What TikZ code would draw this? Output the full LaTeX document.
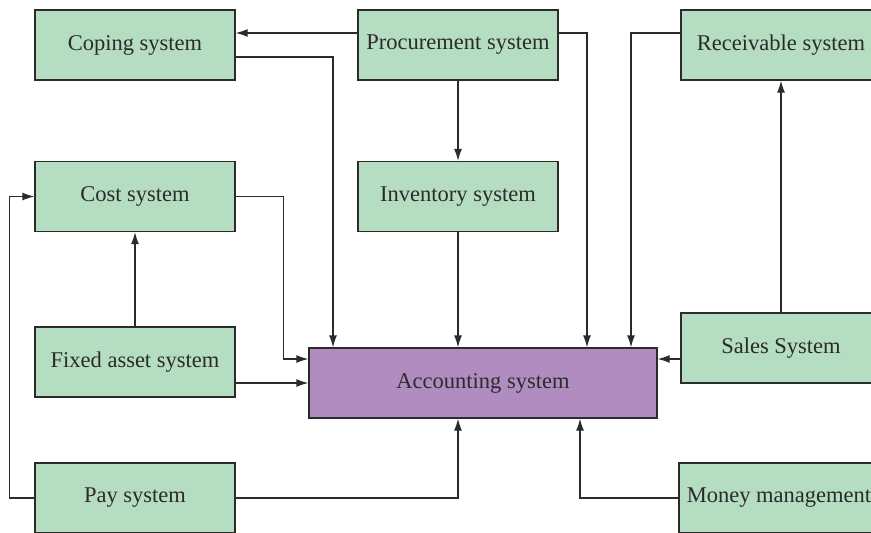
\documentclass[tikz,border=0pt]{standalone}
\usepackage{fontspec}
\setmainfont{Liberation Serif}
\usetikzlibrary{arrows.meta}
\definecolor{boxgreen}{HTML}{B5DDC1}
\definecolor{boxpurple}{HTML}{B08CC0}
\definecolor{ink}{HTML}{2B2B2B}
\begin{document}
\begin{tikzpicture}[x=1pt,y=-1pt,
  sysbox/.style={draw=ink, line width=1.3pt, fill=boxgreen, text=ink,
    minimum width=200pt, minimum height=70pt, inner sep=0pt,
    font=\fontsize{22.5}{27}\selectfont},
  mainbox/.style={sysbox, fill=boxpurple, minimum width=348pt},
  flow/.style={draw=ink, line width=1.3pt, -{Latex[length=12pt,width=8pt]}}]
\useasboundingbox (0,0) rectangle (871,533);
\clip (0,0) rectangle (871,533);

% subsystems
\node[sysbox] (cop)   at (135,45)    {Coping system};
\node[sysbox] (proc)  at (458,45)    {Procurement system};
\node[sysbox] (rec)   at (781,45)    {Receivable system};
\node[sysbox] (cost)  at (135,196.5) {Cost system};
\node[sysbox] (inv)   at (458,196.5) {Inventory system};
\node[sysbox] (fix)   at (135,362)   {Fixed asset system};
\node[sysbox] (sales) at (781,348)   {Sales System};
\node[sysbox] (pay)   at (135,498)   {Pay system};
\node[sysbox] (money) at (779,498)   {Money management};
\node[mainbox] (acc)  at (483,383)   {Accounting system};

% entry points on the accounting system
\coordinate (accL) at ([yshift=24pt]acc.west);
\coordinate (accR) at ([yshift=24pt]acc.east);

% flows
\draw[flow] ([yshift=12pt]proc.west) -- ([yshift=12pt]cop.east);
\draw[flow] ([yshift=-12pt]cop.east) -| ([xshift=-150pt]acc.north);
\draw[flow] (proc.south) -- (inv.north);
\draw[flow] (inv.south) -- (inv.south |- acc.north);
\draw[flow] ([yshift=12pt]proc.east) -| ([xshift=104pt]acc.north);
\draw[flow] ([yshift=12pt]rec.west) -| ([xshift=148pt]acc.north);
\draw[flow] (sales.north) -- (rec.south);
\draw[flow] (sales.west |- accR) -- (accR);
\draw[flow] (cost.east) -| ([xshift=-25pt]accL) -- (accL);
\draw[flow] (fix.north) -- (cost.south);
\draw[flow] (fix.east |- acc.west) -- (acc.west);
\draw[flow] (pay.west) -- ++(-25pt,0) |- (cost.west);
\draw[flow] (pay.east) -| ([xshift=-25pt]acc.south);
\draw[flow] (money.west) -| ([xshift=97pt]acc.south);
\end{tikzpicture}
\end{document}
